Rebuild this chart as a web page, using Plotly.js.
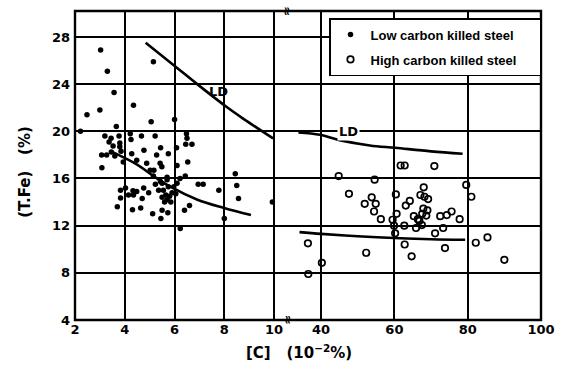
<!DOCTYPE html>
<html>
<head>
<meta charset="utf-8">
<script src="https://cdn.plot.ly/plotly-3.0.1.min.js"></script>
<style>html,body{margin:0;padding:0;background:#fff;}#chart{width:565px;height:369px;}</style>
</head>
<body>
<div id="chart"></div>
<script>
// Low carbon killed steel: [C] (10^-2 %) vs (T.Fe) (%)
var lowC_x = [3.03,3.3,5.15,3.57,4.35,2.48,3.0,6.0,5.06,3.66,2.22,
  3.2,3.45,3.37,3.77,4.22,4.25,4.67,5.22,3.53,3.8,3.8,3.07,3.27,3.6,3.46,3.85,4.28,4.77,5.44,5.28,5.75,4.88,3.94,4.48,3.08,5.42,5.49,5.17,6.48,6.5,6.7,6.45,6.08,6.53,6.1,8.44,
  5.02,5.15,5.43,5.7,5.97,6.22,6.43,5.7,6.1,
  6.95,7.15,7.78,8.5,8.57,9.93,8.0,6.23,6.4,6.6,5.5,5.45,5.12,5.73,4.64,4.31,3.7,3.83,3.83,4.03,4.33,4.35,4.15,4.48,4.7,4.76,4.96,5.23,5.36,5.5,5.55,5.65,5.7,5.8,5.6,5.75,5.85,5.5,5.9,6.05];
var lowC_y = [26.9,25.1,25.9,23.3,22.2,21.4,21.8,21.0,20.8,20.4,20.0,
  19.6,19.4,19.1,19.6,19.8,19.3,19.6,19.6,18.75,19.0,18.7,18.0,18.0,17.9,18.25,18.3,18.1,18.4,18.6,18.0,18.1,17.3,17.4,17.55,16.9,17.3,17.0,16.7,19.8,19.4,18.9,18.9,18.6,17.4,17.1,16.4,
  16.7,16.2,15.75,15.9,15.3,16.0,16.2,16.1,15.6,
  15.5,15.5,15.0,15.4,14.3,14.0,12.6,11.75,13.3,13.7,13.3,12.6,13.0,13.1,13.5,13.35,13.6,14.35,15.0,15.2,14.95,14.6,14.6,14.9,14.3,15.2,14.8,15.5,15.0,15.6,15.0,14.6,14.2,14.5,14.0,15.3,14.0,14.4,14.8,14.7];

// High carbon killed steel
var highC_x = [36.4,36.5,40.2,44.8,47.6,51.9,52.3,53.8,54.45,54.6,54.9,56.3,59.5,59.9,60.2,60.4,60.6,61.7,62.8,62.7,62.8,63.1,64.2,64.7,65.3,65.9,66.4,66.8,67.1,67.5,67.6,67.9,68.0,68.2,68.7,69.0,69.2,70.9,71.1,72.5,73.3,73.8,74.3,75.6,77.8,79.6,81.0,82.2,85.4,90.0];
var highC_y = [10.5,7.9,8.85,16.2,14.7,13.85,9.7,14.4,13.2,15.9,13.85,12.55,12.5,12.0,11.35,14.65,13.0,17.1,17.1,12.0,10.4,13.7,14.1,9.4,12.8,11.8,12.55,12.4,14.6,12.05,13.0,13.45,15.25,14.45,12.85,13.3,14.25,17.05,11.35,12.8,11.8,10.1,12.9,13.2,12.55,15.45,14.45,10.55,11.0,9.1];

// Curves
var ldLow_x = [4.84,6.03,6.91,8.07,8.74,9.96];
var ldLow_y = [27.5,25.5,24.0,22.1,21.1,19.4];
var lowFit_x = [3.45,4.48,5.02,5.83,6.92,7.99,9.07];
var lowFit_y = [18.3,17.2,16.4,15.3,14.2,13.5,12.9];
var ldHigh_x = [33.8,39.7,45,53.3,60.2,70,78.6];
var ldHigh_y = [19.9,19.7,19.25,18.8,18.6,18.3,18.1];
var highFit_x = [34.1,40,50,60,70,79.3];
var highFit_y = [11.45,11.3,11.1,10.95,10.85,10.8];

var xTicksLeft = [2,4,6,8,10];
var xTicksRight = [40,60,80,100];
var yTicks = [4,8,12,16,20,24,28];
var seriesNames = ['Low carbon killed steel','High carbon killed steel'];

var F = 'DejaVu Sans';
var lineStyle = {color:'black', width:2.6, shape:'spline'};
var pad = '\u00a0\u00a0\u00a0\u00a0\u00a0';

var traces = [
  {x: lowC_x, y: lowC_y, xaxis:'x', yaxis:'y', mode:'markers', type:'scatter', name: seriesNames[0] + pad, legendgroup:'a',
   marker:{symbol:'circle', size:5.5, color:'black'}},
  {x: highC_x, y: highC_y, xaxis:'x2', yaxis:'y', mode:'markers', type:'scatter', name: seriesNames[1] + pad, legendgroup:'b',
   marker:{symbol:'circle-open', size:6.5, color:'black', line:{width:1.7, color:'black'}}},
  {x: ldLow_x, y: ldLow_y, xaxis:'x', yaxis:'y', mode:'lines', line:lineStyle, showlegend:false, hoverinfo:'skip'},
  {x: lowFit_x, y: lowFit_y, xaxis:'x', yaxis:'y', mode:'lines', line:lineStyle, showlegend:false, hoverinfo:'skip'},
  {x: ldHigh_x, y: ldHigh_y, xaxis:'x2', yaxis:'y', mode:'lines', line:lineStyle, showlegend:false, hoverinfo:'skip'},
  {x: highFit_x, y: highFit_y, xaxis:'x2', yaxis:'y', mode:'lines', line:lineStyle, showlegend:false, hoverinfo:'skip'}
];

var tickFont = {family:F, size:13, color:'black', weight:'bold'};
var axisCommon = {showgrid:true, gridcolor:'black', gridwidth:2, zeroline:false, showline:false, ticks:'', tickfont:tickFont, fixedrange:true};

var layout = {
  width:565, height:369,
  margin:{l:75, r:24, t:11, b:49},
  paper_bgcolor:'white', plot_bgcolor:'white',
  font:{family:F, color:'black', weight:'bold'},
  showlegend:true,
  legend:{x:1, xanchor:'right', y:0.977, yanchor:'top', bgcolor:'white', bordercolor:'black', borderwidth:1.5,
    font:{family:'Liberation Sans', size:13, color:'black', weight:'bold'}, tracegroupgap:5},
  xaxis: Object.assign({}, axisCommon, {domain:[0,0.455], range:[2,10.52], tickvals:xTicksLeft, anchor:'y'}),
  xaxis2: Object.assign({}, axisCommon, {domain:[0.455,1], range:[30.7,100], tickvals:xTicksRight, anchor:'y'}),
  yaxis: Object.assign({}, axisCommon, {domain:[0,1], range:[4,30.2], tickvals:yTicks, anchor:'x', ticklabelstandoff:4}),
  shapes:[
    {type:'rect', xref:'paper', yref:'paper', x0:0, x1:1, y0:0, y1:1, line:{color:'black', width:2.4}}
  ],
  annotations:[
    {xref:'x', yref:'y', x:7.75, y:23.4, text:'LD', showarrow:false, font:{family:F, size:13, weight:'bold'}},
    {xref:'x2', yref:'y', x:47.5, y:19.95, text:'LD', showarrow:false, bgcolor:'white', font:{family:F, size:13, weight:'bold'}},
    {xref:'paper', yref:'paper', x:0.48, y:-0.104, xanchor:'center', yanchor:'middle', text:'[C]\u00a0\u00a0\u00a0(10<sup>−2</sup>%)', showarrow:false, font:{family:F, size:15, weight:'bold'}},
    {xref:'paper', yref:'paper', x:-0.107, y:0.48, xanchor:'center', yanchor:'middle', textangle:-90, text:'(T.Fe)\u00a0\u00a0\u00a0(%)', showarrow:false, font:{family:F, size:15, weight:'bold'}},
    {xref:'paper', yref:'paper', x:0.455, y:1, xanchor:'center', yanchor:'middle', text:'≈', textangle:90, showarrow:false, font:{family:F, size:12}},
    {xref:'paper', yref:'paper', x:0.458, y:0, xanchor:'center', yanchor:'middle', text:'≈', textangle:90, showarrow:false, font:{family:F, size:12}}
  ]
};

Plotly.newPlot('chart', traces, layout, {staticPlot:true, displayModeBar:false});
</script>
</body>
</html>
